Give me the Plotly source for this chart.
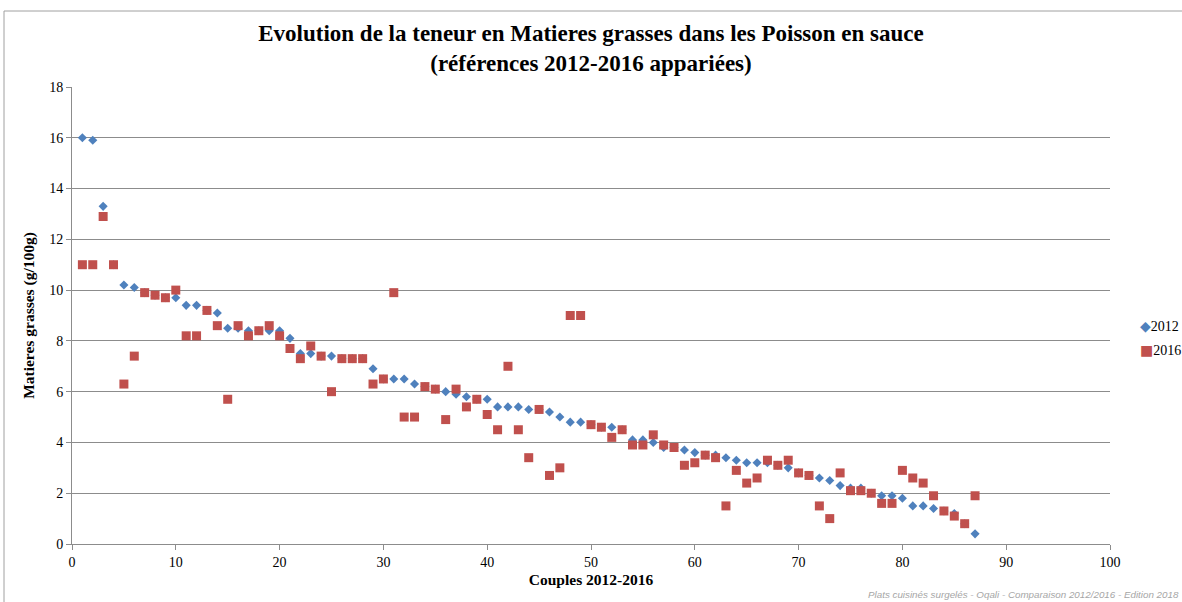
import plotly.graph_objects as go

couples = list(range(1, 88))

mg_2012 = [16.0, 15.9, 13.3, 11.0, 10.2, 10.1, 9.9, 9.8, 9.7, 9.7,
           9.4, 9.4, 9.2, 9.1, 8.5, 8.5, 8.4, 8.4, 8.4, 8.4,
           8.1, 7.5, 7.5, 7.4, 7.4, 7.3, 7.3, 7.3, 6.9, 6.5,
           6.5, 6.5, 6.3, 6.2, 6.1, 6.0, 5.9, 5.8, 5.7, 5.7,
           5.4, 5.4, 5.4, 5.3, 5.3, 5.2, 5.0, 4.8, 4.8, 4.7,
           4.6, 4.6, 4.5, 4.1, 4.1, 4.0, 3.8, 3.8, 3.7, 3.6,
           3.5, 3.5, 3.4, 3.3, 3.2, 3.2, 3.2, 3.1, 3.0, 2.8,
           2.7, 2.6, 2.5, 2.3, 2.2, 2.2, 2.0, 1.9, 1.9, 1.8,
           1.5, 1.5, 1.4, 1.3, 1.2, 0.8, 0.4]

mg_2016 = [11.0, 11.0, 12.9, 11.0, 6.3, 7.4, 9.9, 9.8, 9.7, 10.0,
           8.2, 8.2, 9.2, 8.6, 5.7, 8.6, 8.2, 8.4, 8.6, 8.2,
           7.7, 7.3, 7.8, 7.4, 6.0, 7.3, 7.3, 7.3, 6.3, 6.5,
           9.9, 5.0, 5.0, 6.2, 6.1, 4.9, 6.1, 5.4, 5.7, 5.1,
           4.5, 7.0, 4.5, 3.4, 5.3, 2.7, 3.0, 9.0, 9.0, 4.7,
           4.6, 4.2, 4.5, 3.9, 3.9, 4.3, 3.9, 3.8, 3.1, 3.2,
           3.5, 3.4, 1.5, 2.9, 2.4, 2.6, 3.3, 3.1, 3.3, 2.8,
           2.7, 1.5, 1.0, 2.8, 2.1, 2.1, 2.0, 1.6, 1.6, 2.9,
           2.6, 2.4, 1.9, 1.3, 1.1, 0.8, 1.9]

series_names = ["2012", "2016"]
series_colors = ["#4F81BD", "#C0504D"]
series_symbols = ["diamond", "square"]
legend_glyphs = ["◆", "■"]

x_ticks = [0, 10, 20, 30, 40, 50, 60, 70, 80, 90, 100]
y_ticks = [0, 2, 4, 6, 8, 10, 12, 14, 16, 18]

SERIF = "Liberation Serif"
GRID = "#8c8c8c"

fig = go.Figure()
for name, vals, col, sym, sz in zip(series_names, [mg_2012, mg_2016],
                                    series_colors, series_symbols, [7, 9]):
    fig.add_trace(go.Scatter(
        x=couples, y=vals, mode="markers", name=name, showlegend=False,
        marker=dict(symbol=sym, size=sz, color=col)))

fig.update_layout(
    width=1182, height=602,
    margin=dict(l=72, r=72, t=87, b=58),
    paper_bgcolor="white", plot_bgcolor="white",
    font=dict(family=SERIF, size=14, color="black"),
    title=dict(
        text="<b>Evolution de la teneur en Matieres grasses dans les Poisson en sauce<br>(références 2012-2016 appariées)</b>",
        x=0.5, xanchor="center", y=1 - 41 / 602, yanchor="top",
        font=dict(family=SERIF, size=23, color="black")),
    showlegend=False,
)

fig.update_xaxes(
    range=[0, 100], tickvals=x_ticks, ticks="outside", ticklen=5,
    tickcolor=GRID, showline=True, linecolor=GRID, linewidth=1,
    showgrid=False, zeroline=False,
    tickfont=dict(family=SERIF, size=14),
    title=dict(text="<b>Couples 2012-2016</b>", standoff=5,
               font=dict(family=SERIF, size=15.5)))
fig.update_yaxes(
    range=[0, 18], tickvals=y_ticks, ticks="outside", ticklen=5,
    tickcolor=GRID, showline=True, linecolor=GRID, linewidth=1,
    showgrid=True, gridcolor=GRID, gridwidth=1, zeroline=False,
    tickfont=dict(family=SERIF, size=14),
    title=dict(text="<b>Matieres grasses (g/100g)</b>", standoff=10,
               font=dict(family=SERIF, size=15.5)))

# chart area border (extends beyond the window on right and bottom)
fig.add_shape(type="rect", xref="paper", yref="paper",
              x0=(4 - 72) / 1038, x1=1.2, y0=-0.3, y1=(544 - 11) / 457,
              line=dict(color="#a0a0a0", width=1), layer="below")

# legend drawn as annotations (so it does not shrink the plot area)
for i, (name, col, glyph) in enumerate(zip(series_names, series_colors, legend_glyphs)):
    fig.add_annotation(
        text=f"<span style='color:{col};font-family:DejaVu Sans'>{glyph}</span>{name}",
        xref="paper", yref="paper",
        x=(1138 - 72) / 1038, y=(544 - (326 + 24 * i)) / 457,
        xanchor="left", yanchor="middle", showarrow=False,
        font=dict(family=SERIF, size=14, color="black"))

fig.add_annotation(
    text="<i>Plats cuisinés surgelés - Oqali - Comparaison 2012/2016 - Edition 2018</i>",
    xref="paper", yref="paper", x=(866 - 72) / 1038, y=(544 - 594) / 457,
    xanchor="left", yanchor="middle", showarrow=False,
    font=dict(family="Liberation Sans", size=9.8, color="#a6a6a6"))

fig.write_html("out.html", config={"displayModeBar": False},
               post_script="document.body.style.margin='0';")
